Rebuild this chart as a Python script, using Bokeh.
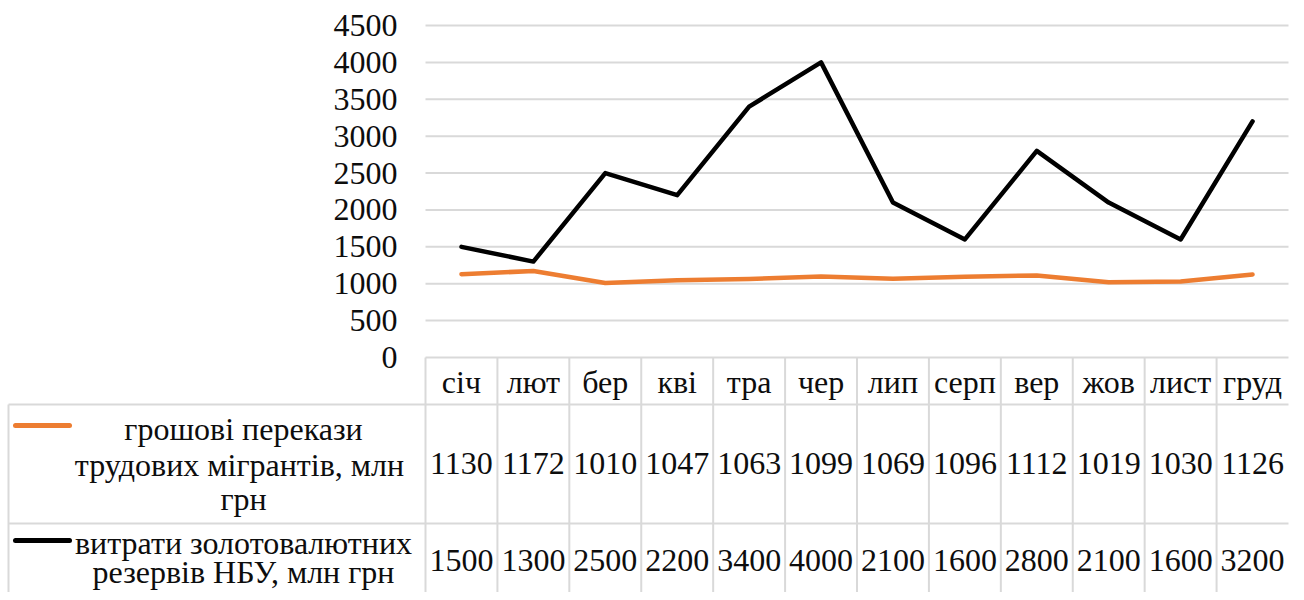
from bokeh.plotting import figure
from bokeh.models import Range1d
from bokeh.embed import file_html
from bokeh.resources import INLINE
from bokeh.core.properties import value

months = ["січ", "лют", "бер", "кві", "тра", "чер", "лип", "серп", "вер", "жов", "лист", "груд"]
remittances = [1130, 1172, 1010, 1047, 1063, 1099, 1069, 1096, 1112, 1019, 1030, 1126]
reserves = [1500, 1300, 2500, 2200, 3400, 4000, 2100, 1600, 2800, 2100, 1600, 3200]
y_ticks = [0, 500, 1000, 1500, 2000, 2500, 3000, 3500, 4000, 4500]
legend1 = ["грошові перекази", "трудових мігрантів,  млн", "грн"]
legend2 = ["витрати золотовалютних", "резервів НБУ, млн грн"]

ORANGE = "#ED7D31"
BLACK = "#000000"
GRID = "#d9d9d9"
TXT = "#0d0d0d"
FONT = "Liberation Serif"
FS = "32px"

# ---- layout (pixel positions on the page) ----
W, H = 1296, 592
OFF = 0                  # page offset of the canvas
PX_L, PX_R = 425, 1288   # plot-area / table columns left & right
PY_TOP, PY_ZERO = 25, 357
YMAX = 4500
n = len(months)
cw = (PX_R - PX_L) / n
s = (PY_ZERO - PY_TOP) / YMAX

def u(px):   # page x -> column units
    return (px - PX_L) / cw

def v(py):   # page y -> data units
    return (PY_ZERO - py) / s

p = figure(width=W, height=H, x_range=Range1d(u(OFF), u(OFF + W)),
           y_range=Range1d(v(OFF + H), v(OFF)), output_backend="svg",
           toolbar_location=None, x_axis_location=None, y_axis_location=None,
           min_border=0)
p.outline_line_color = None
p.xgrid.visible = False
p.ygrid.visible = False

# gridlines
p.segment(x0=[0] * len(y_ticks), y0=y_ticks, x1=[n] * len(y_ticks), y1=y_ticks,
          line_color=GRID, line_width=2)
# y tick labels
p.text(x=[u(397)] * len(y_ticks), y=y_ticks, text=[str(t) for t in y_ticks],
       text_font=value(FONT), text_font_size=value(FS), text_color=TXT,
       text_align="right", text_baseline="middle")

# series
cx = [i + 0.5 for i in range(n)]
p.line(cx, remittances, line_color=ORANGE, line_width=4.5, line_join="round", line_cap="round")
p.line(cx, reserves, line_color=BLACK, line_width=4.5, line_join="round", line_cap="round")

# ---- data table ----
y_row1 = v(404)
y_row2 = v(523)
y_bot = v(OFF + H + 10)
p.segment(x0=[u(8), u(8)], y0=[y_row1, y_row2], x1=[n, n], y1=[y_row1, y_row2],
          line_color=GRID, line_width=2)
p.segment(x0=[u(8)], y0=[y_row1], x1=[u(8)], y1=[y_bot], line_color=GRID, line_width=2)
vx = list(range(n))
p.segment(x0=vx, y0=[0] * n, x1=vx, y1=[y_bot] * n, line_color=GRID, line_width=2)

common = dict(text_font=value(FONT), text_font_size=value(FS), text_color=TXT,
              text_align="center", text_baseline="middle")
p.text(x=cx, y=[v(381)] * n, text=months, **common)
p.text(x=cx, y=[v(463)] * n, text=[str(x) for x in remittances], **common)
p.text(x=cx, y=[v(560)] * n, text=[str(x) for x in reserves], **common)

lx = u(243)
p.text(x=[lx] * 3, y=[v(428), v(464), v(498)], text=legend1, **common)
p.text(x=[lx] * 2, y=[v(542), v(571)], text=legend2, **common)

# legend keys
p.segment(x0=[u(15)], y0=[v(425)], x1=[u(69)], y1=[v(425)], line_color=ORANGE, line_width=5, line_cap="round")
p.segment(x0=[u(15)], y0=[v(540)], x1=[u(69)], y1=[v(540)], line_color=BLACK, line_width=5, line_cap="round")

open("out.html", "w").write(file_html(p, INLINE))
